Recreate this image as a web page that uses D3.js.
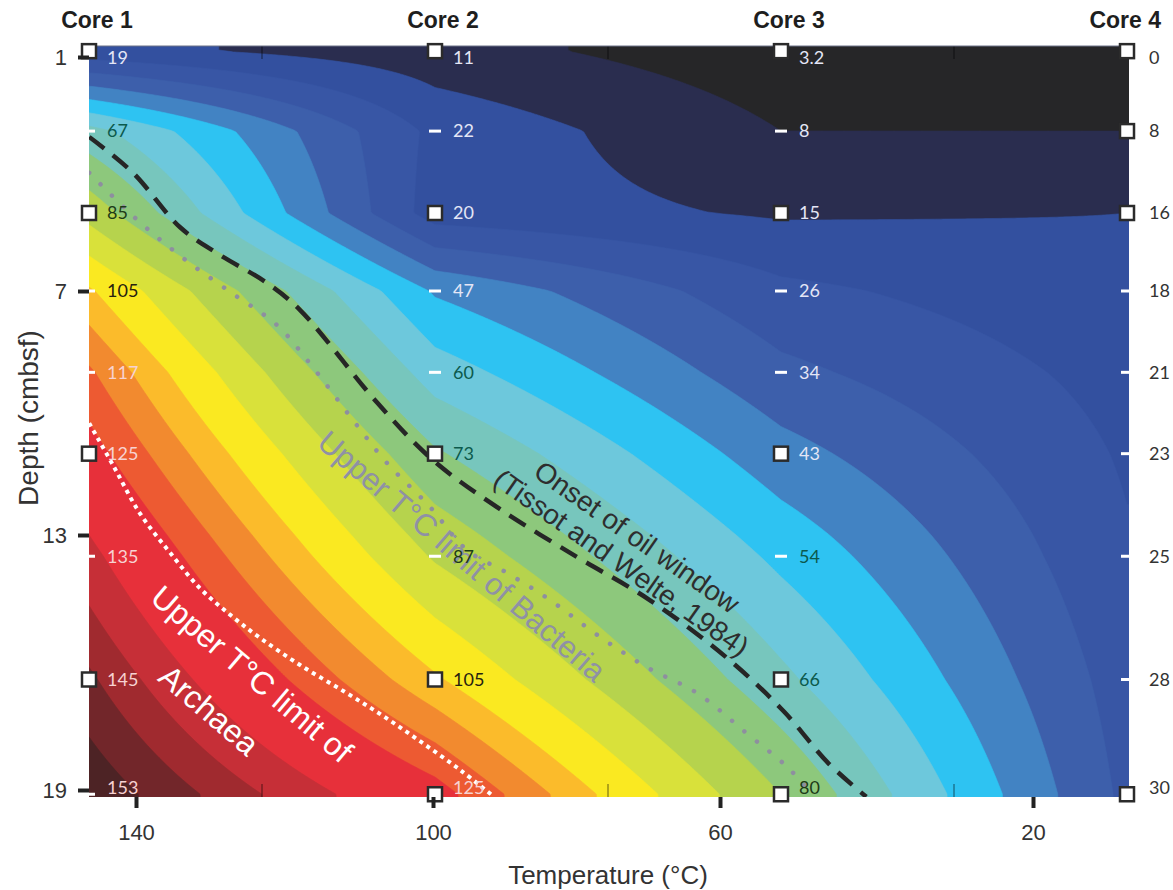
<!DOCTYPE html>
<html>
<head>
<meta charset="utf-8">
<script src="https://cdn.jsdelivr.net/npm/d3@7"></script>
<style>
  body { margin: 0; background: #fff; }
  svg { display: block; }
</style>
</head>
<body>
<div id="chart"></div>
<script>
// Cores along the transect
var cores = ["Core 1", "Core 2", "Core 3", "Core 4"];

// Depth of each measured / interpolated row (cmbsf)
var rowDepths = [0.85, 2.9, 5, 7, 9, 11, 13.5, 16.4, 19.1];

// Temperature (°C) down each core
var core1Temps = [19, 67, 85, 105, 117, 125, 135, 145, 153];
var core2Temps = [11, 22, 20, 47, 60, 73, 87, 105, 125];
var core3Temps = [3.2, 8, 15, 26, 34, 43, 54, 66, 80];
var core4Temps = [0, 8, 16, 18, 21, 23, 25, 28, 30];
var coreLabels = [["19", "67", "85", "105", "117", "125", "135", "145", "153"],
                  ["11", "22", "20", "47", "60", "73", "87", "105", "125"],
                  ["3.2", "8", "15", "26", "34", "43", "54", "66", "80"],
                  ["0", "8", "16", "18", "21", "23", "25", "28", "30"]];

// rows with a square marker, the others get a short dash
var core1Squares = [0, 2, 5, 7];
var core2Squares = [0, 2, 5, 7, 8];
var core3Squares = [0, 2, 5, 7, 8];
var core4Squares = [0, 1, 2, 8];

// contour levels and band colours (first colour = below first level)
var contourLevels = [8, 16, 24, 32, 40, 48, 56, 64, 72, 80, 88, 96, 104, 110, 116, 122, 133, 139, 144, 149];
var bandColors = ["#262628", "#2a2d4f", "#33509f", "#3856a5", "#3d5fab", "#4283c3", "#2ec3f2",
                  "#6dc8dc", "#77c6bd", "#8dc87c", "#b6d34d", "#d9e13a", "#fae921", "#fbbb2b",
                  "#f28a2f", "#ed5a32", "#e7303a", "#c62f37", "#a02a2f", "#72262a", "#4d2325"];

// annotation lines: [temperature axis value, depth]
var oilWindowLine = [[146.3, 3.05], [140.4, 3.97], [134.1, 5.36], [129.1, 6.03], [122.4, 6.79],
                     [117.9, 7.47], [107.5, 9.75], [100, 11.16], [90.7, 12.36], [79.9, 13.52],
                     [69.8, 14.53], [58.8, 15.94], [51.8, 17.16], [46.2, 18.36], [41.3, 19.16]];
var bacteriaLine = [[146.3, 3.97], [140.1, 5.13], [133.7, 6.15], [126.7, 7.1], [121, 7.84],
                    [116.2, 8.87], [110.8, 10.17], [106.2, 11.23], [100.4, 12.31], [95.3, 13.35],
                    [89.7, 13.89], [83.7, 14.53], [76.7, 15.4], [70.2, 16.11], [63.2, 16.72],
                    [56.5, 17.68], [51.4, 18.46], [47.9, 19.16]];
var archaeaLine = [[146.3, 10.25], [143.1, 11.28], [139.5, 12.46], [135.4, 13.42], [131.4, 14.25],
                   [127.3, 14.88], [123.3, 15.42], [117.9, 16.06], [111.9, 16.69], [106.7, 17.26],
                   [101.6, 17.87], [96.2, 18.53], [91.5, 19.16]];

// axis ticks
var depthTicks = [1, 7, 13, 19];
var tempTicks = [140, 100, 60, 20];

var width = 1173, height = 890;
var plot = {left: 89, right: 1129, top: 46, bottom: 797};

var svg = d3.select("#chart").append("svg")
    .attr("width", width)
    .attr("height", height)
    .style("font-family", "'Liberation Sans', Arial, sans-serif");

var xCore = d3.scalePoint().domain(cores).range([89, 1127]);
var y = d3.scaleLinear().domain(depthTicks).range([57, 291, 535, 790]);
var xTemp = d3.scaleLinear().domain(tempTicks).range([136, 433, 720, 1033]);

var temps = [core1Temps, core2Temps, core3Temps, core4Temps];
var squares = [core1Squares, core2Squares, core3Squares, core4Squares];
var corePos = cores.map(function(c) { return xCore(c); });

// bilinear temperature between cores (x) and rows (depth)
function tempAt(px, py) {
    var d = Math.max(rowDepths[0], Math.min(rowDepths[rowDepths.length - 1], y.invert(py)));
    var j = Math.min(rowDepths.length - 2, Math.max(0, d3.bisectRight(rowDepths, d) - 1));
    var ty = (d - rowDepths[j]) / (rowDepths[j + 1] - rowDepths[j]);
    var p = Math.max(corePos[0], Math.min(corePos[3], px));
    var i = Math.min(2, Math.max(0, d3.bisectRight(corePos, p) - 1));
    var tx = (p - corePos[i]) / (corePos[i + 1] - corePos[i]);
    var a = temps[i][j] * (1 - ty) + temps[i][j + 1] * ty;
    var b = temps[i + 1][j] * (1 - ty) + temps[i + 1][j + 1] * ty;
    return a * (1 - tx) + b * tx;
}

// grid a little larger than the plot so outer contour edges get clipped
var step = 2, pad = 10;
var gx0 = plot.left - pad, gy0 = plot.top - pad;
var nx = Math.ceil((plot.right - plot.left + 2 * pad) / step) + 1;
var ny = Math.ceil((plot.bottom - plot.top + 2 * pad) / step) + 1;
var values = new Array(nx * ny);
for (var gj = 0; gj < ny; gj++) {
    for (var gi = 0; gi < nx; gi++) {
        values[gj * nx + gi] = tempAt(gx0 + gi * step, gy0 + gj * step);
    }
}

var contourGen = d3.contours().size([nx, ny]).thresholds(contourLevels);
var path = d3.geoPath(d3.geoIdentity().scale(step).translate([gx0 - step / 2, gy0 - step / 2]));

svg.append("clipPath")
    .attr("id", "plot-clip")
  .append("rect")
    .attr("x", plot.left)
    .attr("y", plot.top)
    .attr("width", plot.right - plot.left)
    .attr("height", plot.bottom - plot.top);

var area = svg.append("g").attr("clip-path", "url(#plot-clip)");

area.append("rect")
    .attr("x", plot.left)
    .attr("y", plot.top)
    .attr("width", plot.right - plot.left)
    .attr("height", plot.bottom - plot.top)
    .attr("fill", bandColors[0]);

area.selectAll("path.band")
    .data(contourGen(values))
    .enter().append("path")
    .attr("class", "band")
    .attr("d", path)
    .attr("fill", function(d, i) { return bandColors[i + 1]; })
    .attr("stroke", function(d, i) { return bandColors[i + 1]; })
    .attr("stroke-width", 0.6);

// small category ticks half way between cores
var mids = d3.pairs(corePos).map(function(p) { return (p[0] + p[1]) / 2; });
mids.forEach(function(m) {
    area.append("line").attr("x1", m).attr("x2", m).attr("y1", plot.top).attr("y2", plot.top + 13)
        .attr("stroke", "rgba(0,0,0,0.4)").attr("stroke-width", 1.5);
    area.append("line").attr("x1", m).attr("x2", m).attr("y1", plot.bottom - 13).attr("y2", plot.bottom)
        .attr("stroke", "rgba(0,0,0,0.4)").attr("stroke-width", 1.5);
});

// annotation lines
var line = d3.line()
    .curve(d3.curveCatmullRom.alpha(0.5))
    .x(function(d) { return xTemp(d[0]); })
    .y(function(d) { return y(d[1]); });

area.append("path")
    .datum(archaeaLine)
    .attr("d", line)
    .attr("fill", "none")
    .attr("stroke", "#ffffff")
    .attr("stroke-width", 4)
    .attr("stroke-dasharray", "4 4.5");

area.append("path")
    .datum(bacteriaLine)
    .attr("d", line)
    .attr("fill", "none")
    .attr("stroke", "#8e8f9f")
    .attr("stroke-width", 4.5)
    .attr("stroke-linecap", "round")
    .attr("stroke-dasharray", "0.1 16");

area.append("path")
    .datum(oilWindowLine)
    .attr("d", line)
    .attr("fill", "none")
    .attr("stroke", "#262626")
    .attr("stroke-width", 4.5)
    .attr("stroke-dasharray", "19 11");

svg.append("line")
    .attr("x1", plot.left).attr("x2", plot.right)
    .attr("y1", plot.top).attr("y2", plot.top)
    .attr("stroke", "#6d7288").attr("stroke-width", 1);

// annotation text
var oil = svg.append("g")
    .attr("transform", "translate(637,537) rotate(35)")
    .attr("fill", "#2e2e2e")
    .style("font-size", "28px")
    .attr("text-anchor", "middle");
oil.append("text").attr("dy", "0.35em").text("Onset of oil window");
oil.append("text").attr("x", 2).attr("y", 30).attr("dy", "0.35em").text("(Tissot and Welte, 1984)");

svg.append("text")
    .attr("transform", "translate(462,556) rotate(40.5)")
    .attr("text-anchor", "middle")
    .attr("dy", "0.35em")
    .attr("fill", "#8f91a5")
    .style("font-size", "31px")
    .text("Upper T°C limit of Bacteria");

svg.append("text")
    .attr("transform", "translate(252,674) rotate(40.5)")
    .attr("text-anchor", "middle")
    .attr("dy", "0.35em")
    .attr("fill", "#ffffff")
    .style("font-size", "32px")
    .text("Upper T°C limit of");

svg.append("text")
    .attr("transform", "translate(209,710) rotate(40.5)")
    .attr("text-anchor", "middle")
    .attr("dy", "0.35em")
    .attr("fill", "#ffffff")
    .style("font-size", "32px")
    .text("Archaea");

// core markers and labels
function labelColor(t, ci) {
    if (ci === 3) return "#333333";
    if (t < 48) return "#e4e6f6";
    if (t < 80) return "#0c5a4c";
    if (t < 96) return "#1d3b17";
    if (t < 112) return "#262210";
    return "#f7d2d2";
}

cores.forEach(function(c, ci) {
    var cx = corePos[ci];
    var g = svg.append("g").attr("class", "core");
    rowDepths.forEach(function(d, ri) {
        var ry = y(d);
        if (squares[ci].indexOf(ri) >= 0) {
            g.append("rect")
                .attr("x", cx - 7).attr("y", ry - 7)
                .attr("width", 14).attr("height", 14)
                .attr("fill", "#ffffff")
                .attr("stroke", "#2b2b2b")
                .attr("stroke-width", 2.5);
        } else {
            g.append("rect")
                .attr("x", cx - 6).attr("y", ry - 1.5)
                .attr("width", 12).attr("height", 3)
                .attr("fill", "#ffffff");
        }
        g.append("text")
            .attr("x", cx + (ci === 3 ? 22 : 18))
            .attr("y", Math.max(58, Math.min(788, ry)))
            .attr("dy", "0.35em")
            .attr("fill", labelColor(temps[ci][ri], ci))
            .style("font-family", "Lato, 'Open Sans', sans-serif")
            .style("font-size", "18px")
            .text(coreLabels[ci][ri]);
    });
    svg.append("text")
        .attr("x", ci === 3 ? width - 12 : cx + 8)
        .attr("y", 20)
        .attr("dy", "0.35em")
        .attr("text-anchor", ci === 3 ? "end" : "middle")
        .attr("fill", "#1e1e1e")
        .style("font-size", "23px")
        .style("font-weight", "bold")
        .text(c);
});

// axes
var yAxis = svg.append("g")
    .attr("transform", "translate(" + plot.left + ",0)")
    .call(d3.axisLeft(y).tickValues(depthTicks).tickSize(11).tickPadding(11));
yAxis.select(".domain").remove();
yAxis.selectAll(".tick line").attr("stroke", "#222").attr("stroke-width", 4);
yAxis.selectAll(".tick text")
    .attr("fill", "#333")
    .style("font-family", "'Liberation Sans', Arial, sans-serif")
    .style("font-size", "22px");

var xAxis = svg.append("g")
    .attr("transform", "translate(0," + plot.bottom + ")")
    .call(d3.axisBottom(xTemp).tickValues(tempTicks).tickSize(11));
xAxis.select(".domain").remove();
xAxis.selectAll(".tick line").attr("stroke", "#222").attr("stroke-width", 4);
xAxis.selectAll(".tick text")
    .attr("y", 35)
    .attr("dy", "0.35em")
    .attr("fill", "#333")
    .style("font-family", "'Liberation Sans', Arial, sans-serif")
    .style("font-size", "22px");

svg.append("text")
    .attr("x", 608)
    .attr("y", 875)
    .attr("dy", "0.35em")
    .attr("text-anchor", "middle")
    .attr("fill", "#333")
    .style("font-size", "26px")
    .text("Temperature (°C)");

svg.append("text")
    .attr("transform", "translate(28,418) rotate(-90)")
    .attr("dy", "0.35em")
    .attr("text-anchor", "middle")
    .attr("fill", "#333")
    .style("font-size", "28px")
    .text("Depth (cmbsf)");
</script>
</body>
</html>
